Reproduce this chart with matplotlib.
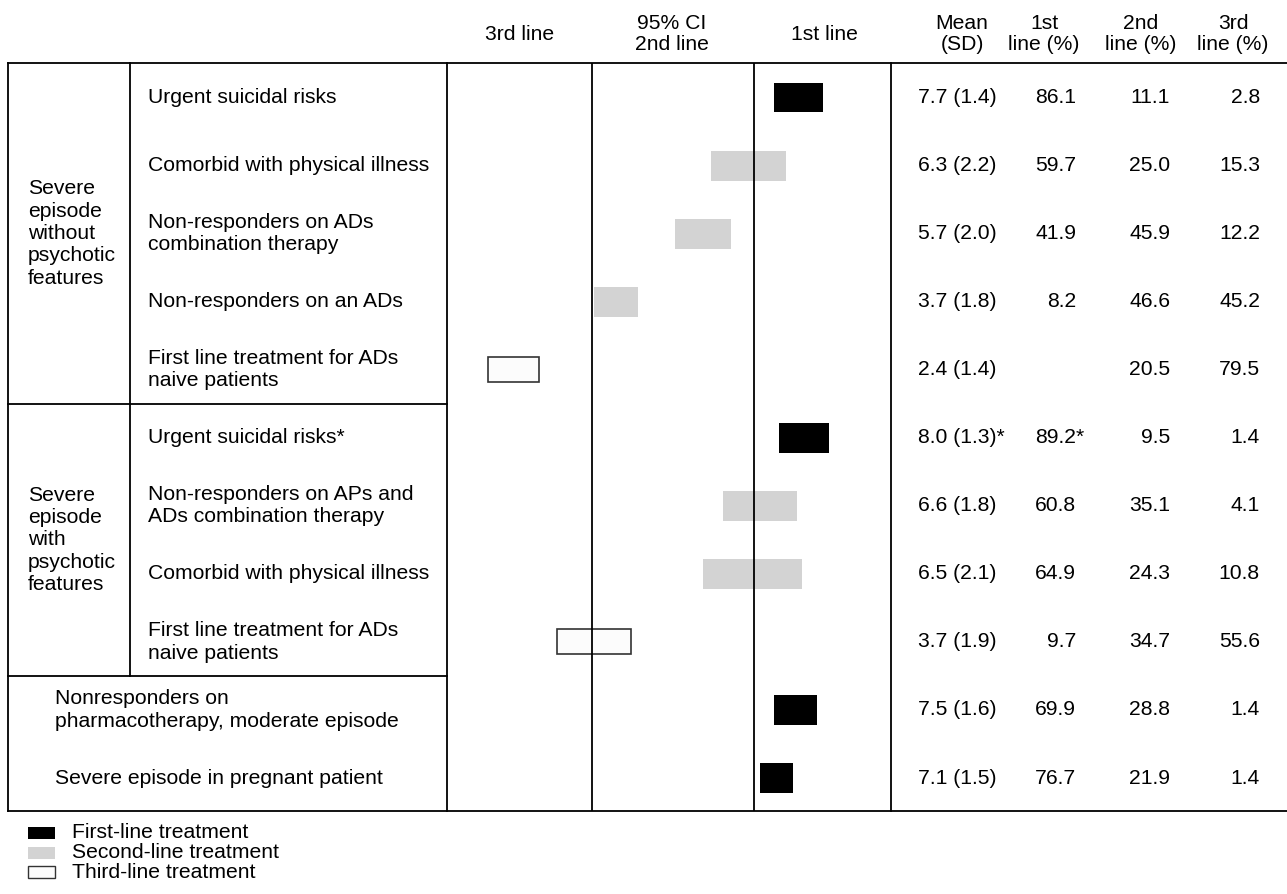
import matplotlib

matplotlib.use("Agg")
import matplotlib.pyplot as plt
from matplotlib.patches import Rectangle

plt.rcParams["font.family"] = ["Liberation Sans", "DejaVu Sans"]
plt.rcParams["font.size"] = 15.2

# -- Data ------------------------------------------------------------------
groups = [
    "Severe\nepisode\nwithout\npsychotic\nfeatures",
    "Severe\nepisode\nwith\npsychotic\nfeatures",
]
situations = [
    "Urgent suicidal risks",
    "Comorbid with physical illness",
    "Non-responders on ADs\ncombination therapy",
    "Non-responders on an ADs",
    "First line treatment for ADs\nnaive patients",
    "Urgent suicidal risks*",
    "Non-responders on APs and\nADs combination therapy",
    "Comorbid with physical illness",
    "First line treatment for ADs\nnaive patients",
    "Nonresponders on\npharmacotherapy, moderate episode",
    "Severe episode in pregnant patient",
]
group_of_row = [0, 0, 0, 0, 0, 1, 1, 1, 1, None, None]

# 95% CI of the rating (1-9 scale)
ci_low = [6.87, 5.70, 5.04, 3.54, 1.57, 6.96, 5.93, 5.56, 2.85, 6.87, 6.61]
ci_high = [7.78, 7.09, 6.07, 4.35, 2.52, 7.89, 7.30, 7.39, 4.22, 7.67, 7.22]
rank = [1, 2, 2, 2, 3, 1, 2, 2, 3, 1, 1]

means = [7.7, 6.3, 5.7, 3.7, 2.4, 8.0, 6.6, 6.5, 3.7, 7.5, 7.1]
sds = [1.4, 2.2, 2.0, 1.8, 1.4, 1.3, 1.8, 2.1, 1.9, 1.6, 1.5]
first_pct = [86.1, 59.7, 41.9, 8.2, None, 89.2, 60.8, 64.9, 9.7, 69.9, 76.7]
second_pct = [11.1, 25.0, 45.9, 46.6, 20.5, 9.5, 35.1, 24.3, 34.7, 28.8, 21.9]
third_pct = [2.8, 15.3, 12.2, 45.2, 79.5, 1.4, 4.1, 10.8, 55.6, 1.4, 1.4]
starred = [False, False, False, False, False, True, False, False, False, False, False]

thresholds = [3.5, 6.5]
rank_labels = ["First-line treatment", "Second-line treatment", "Third-line treatment"]
rank_face = {1: "black", 2: "#d3d3d3", 3: "#fcfcfc"}
rank_edge = {1: "none", 2: "none", 3: "#333333"}

# -- Layout (pixels) --------------------------------------------------------
W, H = 1287, 894
top, bottom = 63, 811
x_left, x_group, x_panel, x_table = 8, 130, 447, 891
row_y0, row_h = 97.5, 68.05
px_per_unit = 54.0
lw = 1.3
ls_rows = 1.22

fig = plt.figure(figsize=(W / 100, H / 100), dpi=100)
ax = fig.add_axes([0, 0, 1, 1])
ax.set_xlim(0, W)
ax.set_ylim(H, 0)
ax.axis("off")

# bar panel in rating units
x_lo = thresholds[0] - (592 - x_panel) / px_per_unit
x_hi = thresholds[1] + (x_table - 754) / px_per_unit
bx = fig.add_axes([x_panel / W, (H - bottom) / H, (x_table - x_panel) / W, (bottom - top) / H])
bx.set_xlim(x_lo, x_hi)
bx.set_ylim((bottom - row_y0) / row_h, (top - row_y0) / row_h)
bx.axis("off")
bx.patch.set_alpha(0)

rows = list(range(len(situations)))
for r in rows:
    h = 0.37 if rank[r] == 3 else 0.44
    bx.barh(r, ci_high[r] - ci_low[r], left=ci_low[r], height=h,
            color=rank_face[rank[r]], edgecolor=rank_edge[rank[r]], linewidth=1.2)
for t in thresholds:
    bx.axvline(t, color="black", lw=lw)

# -- Table lines --------------------------------------------------------------
ax.plot([x_left, W], [top, top], color="black", lw=lw)
ax.plot([x_left, W], [bottom, bottom], color="black", lw=lw)
for x in (x_left, x_panel, x_table):
    ax.plot([x, x], [top, bottom], color="black", lw=lw)
sep1 = row_y0 + 4.5 * row_h
sep2 = row_y0 + 8.5 * row_h
ax.plot([x_group, x_group], [top, sep2], color="black", lw=lw)
for y in (sep1, sep2):
    ax.plot([x_left, x_panel], [y, y], color="black", lw=lw)

# -- Headers ---------------------------------------------------------------------
ax.text(520, 35, "3rd line", ha="center", va="center")
ax.text(672, 34, "95% CI\n2nd line", ha="center", va="center", linespacing=1.1)
ax.text(824, 35, "1st line", ha="center", va="center")
for xc, lab in [(962, "Mean\n(SD)"), (1044, "1st\nline (%)"),
                (1141, "2nd\nline (%)"), (1233, "3rd\nline (%)")]:
    ax.text(xc, 34, lab, ha="center", va="center", linespacing=1.1)

# -- Row text ----------------------------------------------------------------------
for g, lab in enumerate(groups):
    idx = [r for r in rows if group_of_row[r] == g]
    yc = row_y0 + row_h * (idx[0] + idx[-1]) / 2
    ax.text(28, yc, lab, ha="left", va="center", linespacing=ls_rows)

for r in rows:
    y = row_y0 + r * row_h
    xl = 148 if group_of_row[r] is not None else 55
    ax.text(xl, y, situations[r], ha="left", va="center", linespacing=ls_rows)
    star = "*" if starred[r] else ""
    ax.text(918, y, f"{means[r]:.1f} ({sds[r]:.1f}){star}", ha="left", va="center")
    if first_pct[r] is not None:
        ax.text(1076, y, f"{first_pct[r]:.1f}", ha="right", va="center")
        if star:
            ax.text(1076, y, star, ha="left", va="center")
    ax.text(1170, y, f"{second_pct[r]:.1f}", ha="right", va="center")
    ax.text(1260, y, f"{third_pct[r]:.1f}", ha="right", va="center")

# -- Legend ------------------------------------------------------------------------
for k, lab in enumerate(rank_labels):
    y = 833 + k * 19.5
    ax.add_patch(Rectangle((28, y - 6), 27, 12, facecolor=rank_face[k + 1],
                           edgecolor=rank_edge[k + 1] if k == 2 else "none", lw=1.0))
    ax.text(72, y, lab, ha="left", va="center")

fig.savefig("out.png", dpi=100)
plt.close(fig)
